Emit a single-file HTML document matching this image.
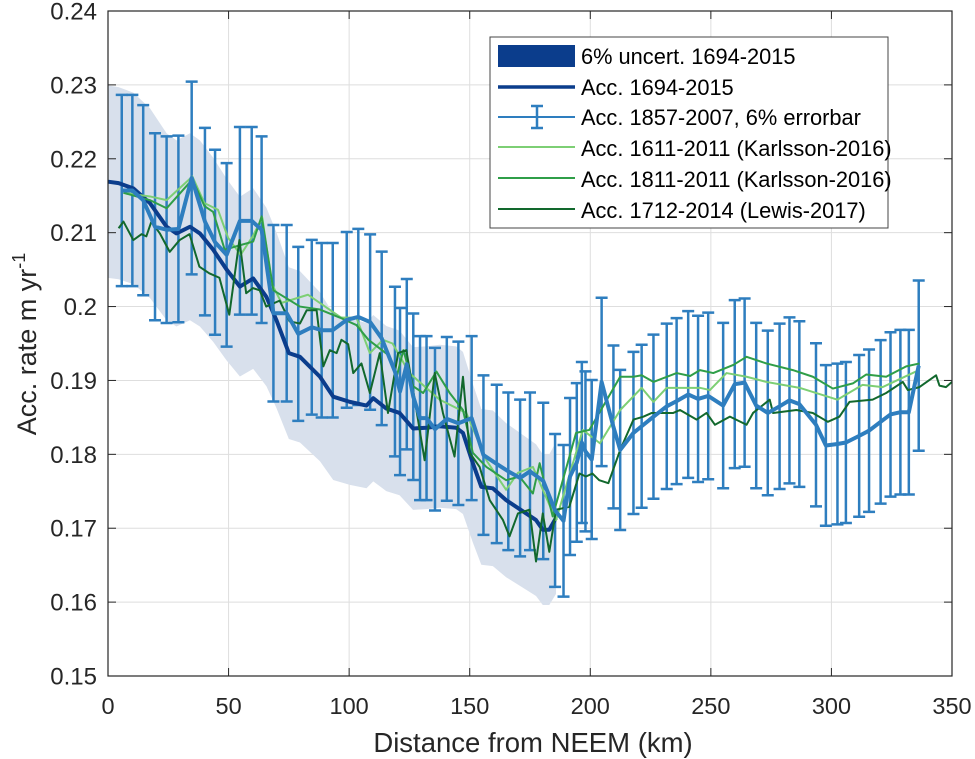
<!DOCTYPE html>
<html><head><meta charset="utf-8"><style>
html,body{margin:0;padding:0;background:#fff;}
svg{display:block;font-family:"Liberation Sans",Arial,sans-serif;}
</style></head><body>
<svg id="chart" width="975" height="759" viewBox="0 0 975 759" xmlns="http://www.w3.org/2000/svg">
<g id="grid"></g>
<g id="plot"></g>
<g id="axes"></g>
<text x="533" y="752" font-size="27.5" text-anchor="middle" fill="#262626">Distance from NEEM (km)</text>
<text transform="translate(36,344) rotate(-90)" font-size="27" text-anchor="middle" fill="#262626">Acc. rate m yr<tspan dy="-11" font-size="18">-1</tspan></text>
<g>
<rect x="490" y="37" width="398" height="191" fill="#fff" stroke="#444" stroke-width="1"/>
<rect x="498" y="45" width="77" height="22" fill="#0b3d8c"/>
<text x="581" y="64" font-size="21.8" fill="#000">6% uncert. 1694-2015</text>
<line x1="498" y1="87" x2="575" y2="87" stroke="#0b3d8c" stroke-width="3.5"/>
<text x="581" y="95" font-size="21.8" fill="#000">Acc. 1694-2015</text>
<line x1="498" y1="117" x2="575" y2="117" stroke="#2e7ebf" stroke-width="2"/>
<path d="M531,106H543M537,106V128M531,128H543" stroke="#2e7ebf" stroke-width="2.5" fill="none"/>
<text x="581" y="125" font-size="21.8" fill="#000">Acc. 1857-2007, 6% errorbar</text>
<line x1="498" y1="147" x2="575" y2="147" stroke="#7dcf74" stroke-width="2"/>
<text x="581" y="156" font-size="21.8" fill="#000">Acc. 1611-2011 (Karlsson-2016)</text>
<line x1="498" y1="178" x2="575" y2="178" stroke="#2f9e48" stroke-width="2"/>
<text x="581" y="187" font-size="21.8" fill="#000">Acc. 1811-2011 (Karlsson-2016)</text>
<line x1="498" y1="209" x2="575" y2="209" stroke="#12682d" stroke-width="2"/>
<text x="581" y="218" font-size="21.8" fill="#000">Acc. 1712-2014 (Lewis-2017)</text>
</g>
</svg>
<script>
const xTicks=[0,50,100,150,200,250,300,350];
const yTicks=[0.15,0.16,0.17,0.18,0.19,0.2,0.21,0.22,0.23,0.24];
const yTickLabels=["0.15","0.16","0.17","0.18","0.19","0.2","0.21","0.22","0.23","0.24"];
// Acc. 1694-2015 (navy) with 6% band
const navyX=[0,4.4,10.5,17.4,24.3,28.4,34,38.1,43.6,49.2,54.7,60.2,65.7,69.8,75,79.6,87.9,93.4,100.3,107.2,110,115.4,120.9,126.5,132,137.5,144.4,147.2,151.3,154.8,159.6,165.1,173.4,177.5,180.3,183,185.8];
const navyY=[0.2169,0.2167,0.2160,0.2140,0.2108,0.2099,0.2108,0.2099,0.2077,0.2050,0.2027,0.2038,0.2013,0.1982,0.1937,0.1932,0.1905,0.1878,0.1871,0.1866,0.1876,0.1862,0.1856,0.1835,0.1836,0.1838,0.1836,0.1829,0.1788,0.1756,0.1754,0.1738,0.1720,0.1711,0.1698,0.1698,0.1714];
// Acc. 1857-2007 with errorbars
const blueX=[5.7,10.1,14.6,19.5,24.3,29.2,34.7,40.2,44.4,49.2,54.7,59.6,63.7,68.6,74.1,78.9,84.5,88.6,93.2,99,103.8,108.7,113.5,119,121.1,123.9,126.6,129.4,132.1,135.6,140.5,145.3,150.8,155.7,161.2,166,170.9,175,180.5,185.4,188.9,191.6,194.4,196.5,198,200.6,204.7,209.6,212.4,217.9,221.3,226.2,231.7,235.8,240.6,244.7,248.9,255.1,259.9,264,268.8,273.6,278.5,282.6,286.7,293.6,297.7,302.5,306,311.5,315.6,320.4,324.5,328.6,332.1,336.2];
const blueY=[0.2157,0.2157,0.2144,0.2108,0.2104,0.2105,0.2174,0.2115,0.2087,0.2070,0.2116,0.2116,0.2104,0.1991,0.1991,0.1963,0.1972,0.1968,0.1968,0.1982,0.1986,0.1979,0.1957,0.1912,0.1885,0.1922,0.1878,0.1849,0.1849,0.1834,0.1848,0.1842,0.1849,0.1799,0.1787,0.1777,0.1768,0.1777,0.1764,0.1724,0.1710,0.1770,0.1789,0.1816,0.1804,0.1793,0.1898,0.1837,0.1806,0.1829,0.1838,0.1851,0.1865,0.1872,0.1881,0.1875,0.1879,0.1866,0.1895,0.1897,0.1866,0.1856,0.1865,0.1873,0.1868,0.1840,0.1812,0.1814,0.1816,0.1825,0.1832,0.1844,0.1854,0.1857,0.1857,0.1920];
// Karlsson 1611-2011
const lgX=[6.4,17.4,24.3,35,40,45.6,49.8,55,60,64,68,72,82.9,96.7,103,108.6,114,118,125,137.5,148.6,156.9,165.1,170,176.2,185.8,196.9,204,212.4,221.3,226.2,231.7,245.5,249.6,256.5,264.8,273,286.8,302.5,312.9,321.2,335];
const lgY=[0.2154,0.2149,0.2144,0.2176,0.2140,0.2131,0.2093,0.2070,0.2095,0.2120,0.2030,0.2005,0.2016,0.1985,0.1985,0.1937,0.1955,0.1950,0.1910,0.1874,0.1856,0.1792,0.1752,0.1775,0.1783,0.1711,0.1833,0.1815,0.1860,0.1890,0.1871,0.1890,0.1890,0.1887,0.1910,0.1905,0.1898,0.1890,0.1874,0.1894,0.1891,0.1912];
// Karlsson 1811-2011
const mgX=[6.4,17.4,24.3,35,40,43.6,48.4,54.7,60.2,63.7,68.6,79.6,87.9,96.2,103,108,112,116,119.7,122.5,126.6,130.7,136.2,141.7,147.2,151.3,156.9,165.1,170.6,176.2,179,184.4,194.1,199.6,212.4,217.9,221.3,226.2,235.8,241.4,245.5,251,259.3,264.8,273,284,292.3,300.6,308.9,314.4,322.7,331,336.5];
const mgY=[0.2154,0.2144,0.2133,0.2172,0.2136,0.2128,0.2077,0.2083,0.2088,0.2122,0.2022,0.2000,0.1996,0.1985,0.1975,0.1955,0.1945,0.1935,0.1905,0.1941,0.1892,0.1883,0.1912,0.1883,0.1860,0.1802,0.1783,0.1765,0.1770,0.1747,0.1788,0.1716,0.1829,0.1833,0.1905,0.1905,0.1907,0.1898,0.1910,0.1906,0.1914,0.1910,0.1921,0.1932,0.1923,0.1914,0.1905,0.1889,0.1896,0.1908,0.1905,0.1919,0.1923];
// Lewis 1712-2014
const dgX=[4.4,6.4,10.5,13.9,15.9,18,21.5,25.6,29.7,33.8,37.9,42,46.2,50.3,54.5,57.3,60.1,62.9,65.6,71.2,75.3,79.6,82.4,86.5,89.3,92,94.8,96.8,99.6,101.7,105.1,108.6,112.7,116.1,120.3,123.7,127.2,131.3,135.5,138.9,143.7,147.2,150,154.1,158.3,163.8,166.5,170,174.8,177.5,180.3,183,185.8,191.3,195.5,198.2,200.9,203.7,207.5,212.4,217.9,222,225.5,234.4,237.2,244.1,248.2,251.7,257.9,264.8,267.5,274.4,275.8,285.5,292.3,298.5,303.3,307.5,317.1,322.7,329.6,331.7,336.5,343.4,344.8,347.5,350];
const dgY=[0.2106,0.2115,0.2090,0.2098,0.2095,0.2115,0.2099,0.2074,0.2090,0.2098,0.2054,0.2045,0.2039,0.1989,0.2090,0.2018,0.2025,0.2022,0.2000,0.2008,0.1980,0.1977,0.1995,0.1995,0.1919,0.1941,0.1937,0.1955,0.1949,0.1910,0.1923,0.1883,0.1937,0.1856,0.1937,0.1941,0.1874,0.1792,0.1910,0.1856,0.1797,0.1905,0.1802,0.1783,0.1738,0.1711,0.1689,0.1720,0.1725,0.1655,0.1720,0.1668,0.1725,0.1729,0.1774,0.1770,0.1774,0.1765,0.1761,0.1806,0.1847,0.1851,0.1856,0.1856,0.1860,0.1847,0.1856,0.1840,0.1851,0.1840,0.1856,0.1874,0.1856,0.1860,0.1856,0.1844,0.1851,0.1871,0.1874,0.1883,0.1898,0.1887,0.1891,0.1907,0.1893,0.1891,0.1898];
const uncert=0.06;

const X0=108,X1=952,Y0=676,Y1=11;
const xS=v=>X0+(v-0)/(350-0)*(X1-X0);
const yS=v=>Y0-(v-0.15)/(0.24-0.15)*(Y0-Y1);
const NS="http://www.w3.org/2000/svg";
function mk(tag,attrs,parent){const e=document.createElementNS(NS,tag);for(const k in attrs)e.setAttribute(k,attrs[k]);parent.appendChild(e);return e;}
const grid=document.getElementById('grid'),plot=document.getElementById('plot'),axes=document.getElementById('axes');
xTicks.forEach(t=>{const l=mk('line',{x1:xS(t),x2:xS(t),y1:Y1,y2:Y0,stroke:'#dedede','stroke-width':1},grid);

});
yTicks.forEach(t=>{const l=mk('line',{x1:X0,x2:X1,y1:yS(t),y2:yS(t),stroke:'#dedede','stroke-width':1},grid);

});
let d='';navyX.forEach((x,i)=>{d+=(i?'L':'M')+xS(x)+','+yS(navyY[i]*(1+uncert));});
for(let i=navyX.length-1;i>=0;i--)d+='L'+xS(navyX[i])+','+yS(navyY[i]*(1-uncert));
const band=mk('path',{d:d+'Z',fill:'#d8e0ec',stroke:'none'},plot);


function line(xs,ys,color,w,name){const p=mk('path',{d:xs.map((x,i)=>(i?'L':'M')+xS(x)+','+yS(ys[i])).join(''),fill:'none',stroke:color,'stroke-width':w,'stroke-linejoin':'round'},plot);

}
blueX.forEach((x,i)=>{const v=blueY[i],cx=xS(x),t=yS(v*(1+uncert)),b=yS(v*(1-uncert));
const e=mk('path',{d:`M${cx-6},${t}H${cx+6}M${cx},${t}V${b}M${cx-6},${b}H${cx+6}`,stroke:'#2e7ebf','stroke-width':2.5,fill:'none'},plot);

});
line(navyX,navyY,'#0b3d8c',4,'line-acc-1694-2015');
line(lgX,lgY,'#7dcf74',2,'line-acc-1611-2011');
line(mgX,mgY,'#2f9e48',2,'line-acc-1811-2011');
line(dgX,dgY,'#12682d',2,'line-acc-1712-2014');
line(blueX,blueY,'#2e7ebf',4,'line-acc-1857-2007');
const box=mk('rect',{x:X0,y:Y1,width:X1-X0,height:Y0-Y1,fill:'none',stroke:'#262626','stroke-width':1.2},axes);


xTicks.forEach(t=>{mk('line',{x1:xS(t),x2:xS(t),y1:Y0,y2:Y0-8,stroke:'#262626'},axes);mk('line',{x1:xS(t),x2:xS(t),y1:Y1,y2:Y1+8,stroke:'#262626'},axes);
const tx=mk('text',{x:xS(t),y:Y0+38,'font-size':23.5,'text-anchor':'middle',fill:'#262626'},axes);tx.textContent=t;

});
yTicks.forEach((t,i)=>{mk('line',{x1:X0,x2:X0+8,y1:yS(t),y2:yS(t),stroke:'#262626'},axes);mk('line',{x1:X1,x2:X1-8,y1:yS(t),y2:yS(t),stroke:'#262626'},axes);
const tx=mk('text',{x:X0-11,y:yS(t)+8.5,'font-size':24,'text-anchor':'end',fill:'#262626'},axes);tx.textContent=yTickLabels[i];

});
</script>
</body></html>
